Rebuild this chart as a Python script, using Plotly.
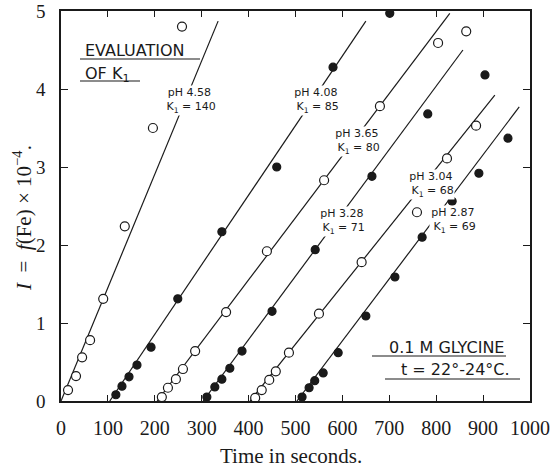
import plotly.graph_objects as go

# ---- data ----
# pH 4.58 (open)
s1_x = [15, 32, 45, 62, 90, 136, 196, 258]
s1_y = [0.14, 0.32, 0.56, 0.78, 1.31, 2.24, 3.50, 4.80]
l1_x = [0, 335]
l1_y = [0, 4.87]
# pH 4.08 (filled)
s2_x = [117, 130, 145, 162, 192, 249, 343, 460, 580, 701]
s2_y = [0.08, 0.19, 0.31, 0.46, 0.69, 1.31, 2.17, 3.00, 4.28, 4.97]
l2_x = [104, 650]
l2_y = [0, 4.87]
# pH 3.65 (open)
s3_x = [215, 228, 245, 260, 286, 352, 439, 561, 680, 804, 864]
s3_y = [0.05, 0.17, 0.28, 0.41, 0.64, 1.14, 1.92, 2.83, 3.78, 4.59, 4.74]
l3_x = [205, 829]
l3_y = [0, 4.97]
# pH 3.28 (filled)
s4_x = [311, 328, 343, 360, 386, 450, 542, 663, 782, 904]
s4_y = [0.05, 0.18, 0.28, 0.42, 0.64, 1.15, 1.94, 2.88, 3.68, 4.18]
l4_x = [303, 857]
l4_y = [0, 4.50]
# pH 3.04 (open)
s5_x = [414, 428, 444, 458, 486, 550, 641, 759, 823, 885]
s5_y = [0.04, 0.14, 0.27, 0.38, 0.62, 1.12, 1.78, 2.42, 3.11, 3.53]
l5_x = [403, 925]
l5_y = [0, 3.92]
# pH 2.87 (filled)
s6_x = [514, 529, 541, 559, 591, 650, 712, 770, 834, 891, 953]
s6_y = [0.05, 0.17, 0.26, 0.36, 0.62, 1.09, 1.59, 2.10, 2.56, 2.92, 3.37]
l6_x = [503, 977]
l6_y = [0, 3.77]

ph_labels = ["pH 4.58", "pH 4.08", "pH 3.65", "pH 3.28", "pH 3.04", "pH 2.87"]
k_labels = ["K<sub>1</sub> = 140", "K<sub>1</sub> = 85", "K<sub>1</sub> = 80",
            "K<sub>1</sub> = 71", "K<sub>1</sub> = 68", "K<sub>1</sub> = 69"]
label_x = [275, 544, 631, 599, 789, 836]
label_y = [3.85, 3.85, 3.33, 2.30, 2.77, 2.32]

x_ticks = [0, 100, 200, 300, 400, 500, 600, 700, 800, 900, 1000]
y_ticks = [0, 1, 2, 3, 4, 5]

INK = "#1a1a1a"
fig = go.Figure()

series = [
    (s1_x, s1_y, l1_x, l1_y, False),
    (s2_x, s2_y, l2_x, l2_y, True),
    (s3_x, s3_y, l3_x, l3_y, False),
    (s4_x, s4_y, l4_x, l4_y, True),
    (s5_x, s5_y, l5_x, l5_y, False),
    (s6_x, s6_y, l6_x, l6_y, True),
]
for sx, sy, lx, ly, filled in series:
    fig.add_trace(go.Scatter(x=lx, y=ly, mode="lines",
                             line=dict(color=INK, width=1.2),
                             showlegend=False, hoverinfo="skip"))
for sx, sy, lx, ly, filled in series:
    fig.add_trace(go.Scatter(
        x=sx, y=sy, mode="markers", showlegend=False,
        marker=dict(symbol="circle", size=9 if not filled else 8,
                    color=INK if filled else "white",
                    line=dict(color=INK, width=1.2)),
    ))

lab_font = dict(family="DejaVu Sans, Arial, sans-serif", size=11, color=INK)
for lx, ly, p, k in zip(label_x, label_y, ph_labels, k_labels):
    fig.add_annotation(x=lx, y=ly, xref="x", yref="y",
                       text=p + "<br> " + k, showarrow=False,
                       font=lab_font, bgcolor="white", borderpad=0,
                       align="center")

big_font = dict(family="DejaVu Sans, Arial, sans-serif", size=16, color=INK)
PX = lambda px: (px - 61) / 469
PY = lambda py: (401 - py) / 390
# upper-left block
fig.add_annotation(xref="paper", yref="paper", x=PX(83), y=PY(51),
                   xanchor="left", yanchor="middle", text="EVALUATION",
                   showarrow=False, font=big_font)
fig.add_annotation(xref="paper", yref="paper", x=PX(83), y=PY(74),
                   xanchor="left", yanchor="middle", text="OF K<sub>1</sub>",
                   showarrow=False, font=big_font)
# lower-right block
fig.add_annotation(xref="paper", yref="paper", x=PX(506), y=PY(347),
                   xanchor="right", yanchor="middle", text="0.1 M GLYCINE",
                   showarrow=False, font=big_font)
fig.add_annotation(xref="paper", yref="paper", x=PX(512), y=PY(369),
                   xanchor="right", yanchor="middle", text="t = 22°-24°C.",
                   showarrow=False, font=big_font)

underlines = [(PX(80), PX(200), PY(59)),
              (PX(80), PX(140), PY(81)),
              (PX(372), PX(506), PY(356)),
              (PX(385), PX(520), PY(379))]
for x0, x1, yy in underlines:
    fig.add_shape(type="line", xref="paper", yref="paper", x0=x0, x1=x1, y0=yy, y1=yy,
                  line=dict(color=INK, width=1.2))

serif = "Liberation Serif, Times New Roman, serif"
fig.add_annotation(xref="paper", yref="paper", x=PX(22), y=PY(218),
                   xanchor="center", yanchor="middle", textangle=-90,
                   text="<i>I</i>  =  <i>f</i>(Fe) × 10<sup>−4</sup>.",
                   showarrow=False, font=dict(family=serif, size=21, color=INK))
fig.add_annotation(xref="paper", yref="paper", x=PX(291), y=PY(456),
                   xanchor="center", yanchor="middle", text="Time in seconds.",
                   showarrow=False, font=dict(family=serif, size=21, color=INK))

fig.update_xaxes(range=[0, 1000], tickvals=x_ticks, ticktext=[str(v) for v in x_ticks],
                 ticks="inside", ticklen=6, tickcolor=INK, tickwidth=1.2,
                 showline=True, linecolor=INK, linewidth=1.5, mirror="ticks",
                 showgrid=False, zeroline=False, automargin=False,
                 tickfont=dict(family=serif, size=20, color=INK),
                 ticklabelstandoff=8)
fig.update_yaxes(range=[0, 5], tickvals=y_ticks,
                 ticks="inside", ticklen=7, tickcolor=INK, tickwidth=1.2,
                 showline=True, linecolor=INK, linewidth=1.5, mirror="ticks",
                 showgrid=False, zeroline=False, automargin=False,
                 tickfont=dict(family=serif, size=19, color=INK),
                 ticklabelstandoff=10)
fig.update_layout(width=554, height=470, plot_bgcolor="white", paper_bgcolor="white",
                  margin=dict(l=61, r=24, t=11, b=69), showlegend=False)

fig.write_html("out.html")
